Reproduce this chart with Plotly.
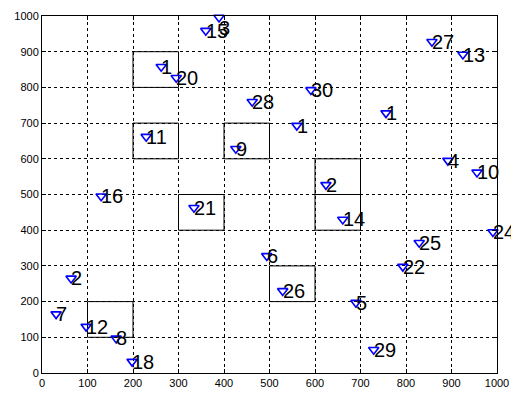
import plotly.graph_objects as go

# point data
labels = ["1", "20", "11", "15", "3", "28", "30", "1", "27", "13",
          "1", "16", "9", "2", "21", "14", "6", "4", "10", "24",
          "25", "2", "7", "12", "8", "18", "26", "22", "5", "29"]
xs = [262, 295, 229, 360, 389, 462, 591, 560, 857, 925,
      756, 130, 426, 624, 334, 661, 494, 892, 956, 991,
      829, 64, 31, 97, 163, 198, 529, 793, 690, 729]
ys = [858, 827, 662, 959, 996, 760, 793, 693, 928, 892,
      728, 495, 628, 527, 463, 430, 328, 595, 562, 395,
      365, 265, 165, 130, 97, 32, 230, 298, 197, 65]

# highlighted cells (x0, x1, y0, y1)
rect_x0 = [200, 200, 400, 600, 600, 300, 500, 100]
rect_x1 = [300, 300, 500, 700, 700, 400, 600, 200]
rect_y0 = [800, 600, 600, 500, 400, 400, 200, 100]
rect_y1 = [900, 700, 700, 600, 500, 500, 300, 200]

tick_vals = [0, 100, 200, 300, 400, 500, 600, 700, 800, 900, 1000]
tick_text = [str(v) for v in tick_vals]

# layout-only nudges for labels (pixels) keyed by point index
label_yshift = {4: -11}

fig = go.Figure()
fig.add_trace(go.Scatter(
    x=xs, y=ys, mode="markers",
    marker=dict(symbol="triangle-down-open", size=9, color="#0000ff",
                line=dict(width=1.6, color="#0000ff")),
    cliponaxis=False, showlegend=False, hoverinfo="skip"))

for i in range(len(xs)):
    fig.add_annotation(x=xs[i], y=ys[i], text=labels[i], showarrow=False,
                       xanchor="left", yanchor="middle", xshift=-2,
                       yshift=label_yshift.get(i, 0),
                       font=dict(family="Liberation Sans, Arial", size=20, color="black"))

for a, b, c, d in zip(rect_x0, rect_x1, rect_y0, rect_y1):
    fig.add_shape(type="rect", x0=a, x1=b, y0=c, y1=d, xref="x", yref="y",
                  line=dict(color="black", width=1), layer="below")

axis_common = dict(
    range=[0, 1000], tickmode="array", tickvals=tick_vals, ticktext=tick_text,
    showgrid=True, gridcolor="black", griddash="dot", gridwidth=1,
    showline=True, linecolor="black", linewidth=1, mirror="ticks",
    ticks="inside", ticklen=4, tickcolor="black", zeroline=False,
    automargin=False,
    tickfont=dict(family="Liberation Sans, Arial", size=11, color="black"),
)
fig.update_xaxes(**axis_common)
fig.update_yaxes(**axis_common)

fig.update_layout(
    width=519, height=398,
    margin=dict(l=34, r=30, t=8, b=33),
    paper_bgcolor="white", plot_bgcolor="white",
)
fig.write_html("out.html")
